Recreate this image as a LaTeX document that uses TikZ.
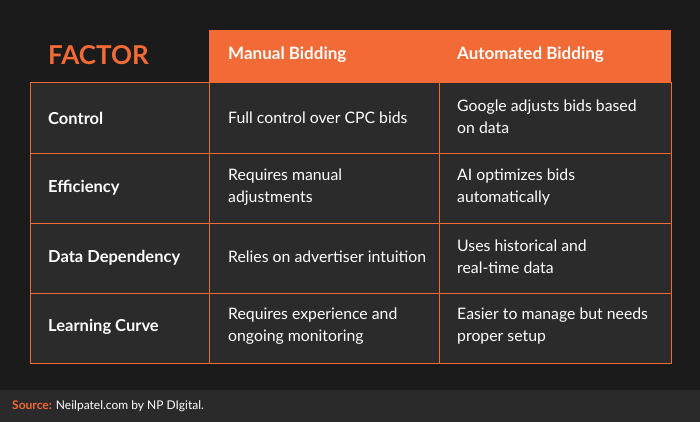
\documentclass[tikz,border=0pt]{standalone}
\usepackage{fontspec}
\setmainfont{Lato}
\definecolor{bg}{HTML}{1B1B1B}
\definecolor{cellc}{HTML}{2B2B2B}
\definecolor{org}{HTML}{F26A35}
\definecolor{foot}{HTML}{2A2A2A}
\begin{document}
\begin{tikzpicture}[x=1pt,y=-1pt,
  lab/.style={anchor=west,text=white,font=\fontsize{15.8}{22}\selectfont,align=left,inner sep=0pt},
  hlab/.style={anchor=west,text=white,font=\fontsize{17}{20}\selectfont\bfseries,inner sep=0pt},
  flab/.style={anchor=west,text=white,font=\fontsize{16.5}{20}\selectfont\bfseries,inner sep=0pt}]
\fill[bg] (0,0) rectangle (700,422);
\useasboundingbox (0,0) rectangle (700,422);
\fill[foot] (0,390) rectangle (700,422);
\fill[org] (209,30) rectangle (671,83);
\fill[cellc] (30,83) rectangle (671,363);
\draw[org,line width=1pt] (30,83) rectangle (671,363);
\foreach \y in {153,223,293} \draw[org,line width=1pt] (30,\y) -- (671,\y);
\foreach \x in {209,439} \draw[org,line width=1pt] (\x,83) -- (\x,363);
\node[anchor=west,text=org,font=\fontsize{26}{28}\selectfont\bfseries,inner sep=0pt] (fac) at (48,55) {FACTOR};
\node[hlab] (h1) at (228,55) {Manual Bidding};
\node[hlab] (h2) at (457,55) {Automated Bidding};
\node[flab] (f1) at (48,118) {Control};
\node[flab] (f2) at (48,188) {Efficiency};
\node[flab] (f3) at (48,258) {Data Dependency};
\node[flab] (f4) at (48,327) {Learning Curve};
\node[lab] (m1) at (228,118) {Full control over CPC bids};
\node[lab] (m2) at (228,187) {Requires manual\\adjustments};
\node[lab] (m3) at (228,257) {Relies on advertiser intuition};
\node[lab] (m4) at (228,326) {Requires experience and\\ongoing monitoring};
\node[lab] (a1) at (457,117) {Google adjusts bids based\\on data};
\node[lab] (a2) at (457,187) {AI optimizes bids\\automatically};
\node[lab] (a3) at (457,257) {Uses historical and\\real-time data};
\node[lab] (a4) at (457,326) {Easier to manage but needs\\proper setup};
\node[anchor=west,text=white,font=\fontsize{12}{14}\selectfont,inner sep=0pt] (src) at (12,406) {\textcolor{org}{\bfseries Source:} Neilpatel.com by NP DIgital.};
\end{tikzpicture}
\end{document}
